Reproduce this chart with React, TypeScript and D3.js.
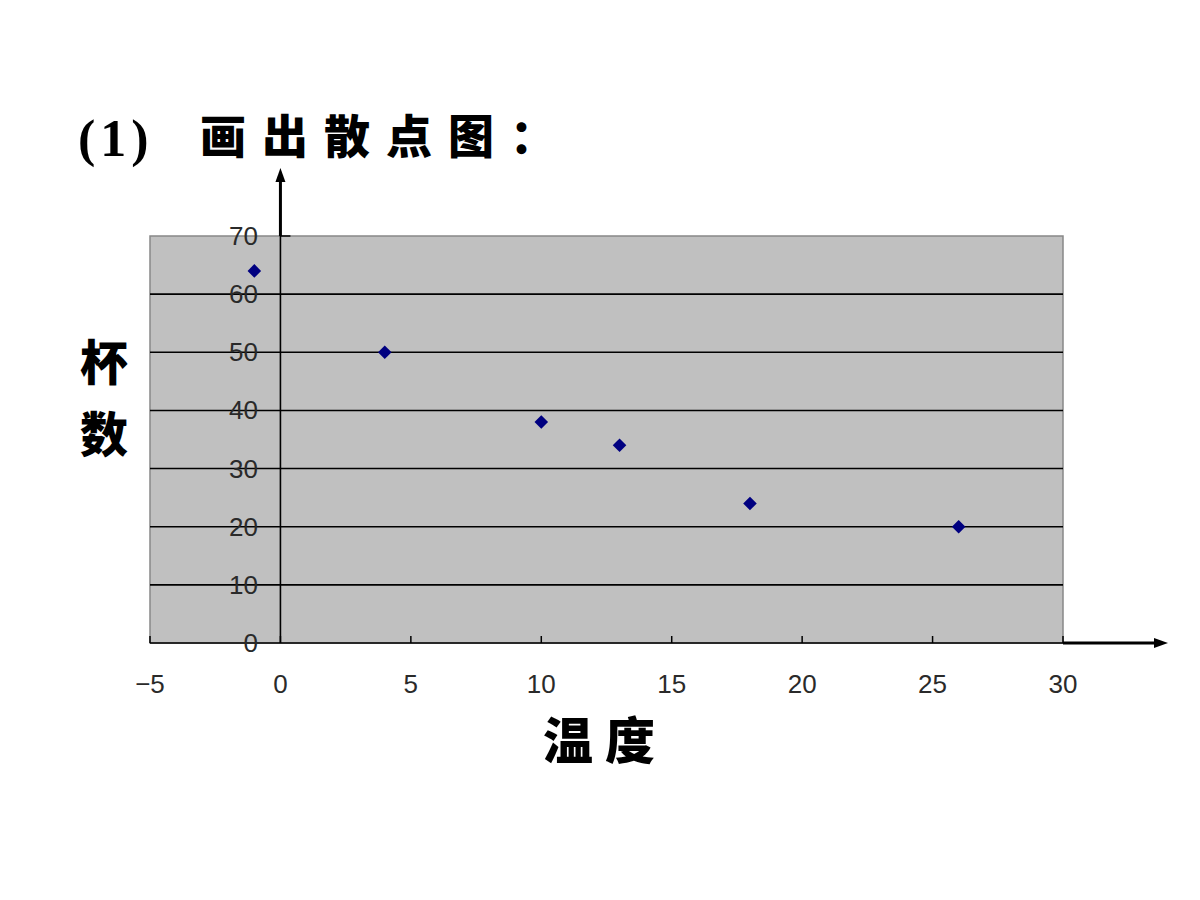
import * as d3 from 'd3';

const temps = [-1, 4, 10, 13, 18, 26];
const cups = [64, 50, 38, 34, 24, 20];
const xTicks = [-5, 0, 5, 10, 15, 20, 25, 30];
const yTicks = [0, 10, 20, 30, 40, 50, 60, 70];
const titleNum = '(1)';
const titleText = '画出散点图：';
const yLabel = ['杯', '数'];
const xLabel = '温度';

const CJK = '"Noto Sans CJK SC", "Noto Sans", sans-serif';
const NUM = '"Liberation Sans", "DejaVu Sans", sans-serif';

// square diamond, equal width and height
const squareDiamond = {
  draw(ctx: any, size: number) {
    const r = Math.sqrt(size / 2);
    ctx.moveTo(0, -r);
    ctx.lineTo(r, 0);
    ctx.lineTo(0, r);
    ctx.lineTo(-r, 0);
    ctx.closePath();
  },
};

export default function App() {
  const x = d3.scaleLinear().domain([-5, 30]).range([150, 1063]);
  const y = d3.scaleLinear().domain([0, 70]).range([643, 236]);
  const x0 = x(0);
  const pts = temps.map((t, i) => ({ t, c: cups[i] }));
  const diamond = d3.symbol().type(squareDiamond as any).size(92)();

  return (
    <svg width={1200} height={900} style={{ position: 'absolute', left: 0, top: 0, background: '#fff' }}>
      {/* title */}
      <text x={78} y={156} fontFamily='"Liberation Serif", serif' fontWeight={700} fontSize={52} letterSpacing={5} fill="#000">
        {titleNum}
      </text>
      <text x={200} y={153} fontFamily={CJK} fontWeight={900} fontSize={46} letterSpacing={16} fill="#000">
        {titleText}
      </text>

      {/* plot area */}
      <rect x={x(-5)} y={y(70)} width={x(30) - x(-5)} height={y(0) - y(70)} fill="#c0c0c0" stroke="#888" strokeWidth={1.5} />
      {yTicks.filter((v) => v > 0 && v < 70).map((v) => (
        <line key={v} x1={x(-5)} x2={x(30)} y1={y(v)} y2={y(v)} stroke="#000" strokeWidth={1.6} />
      ))}

      {/* x axis */}
      <line x1={x(-5)} x2={x(30)} y1={y(0)} y2={y(0)} stroke="#000" strokeWidth={1.6} />
      {xTicks.map((v) => (
        <line key={v} x1={x(v)} x2={x(v)} y1={y(0)} y2={y(0) - 7} stroke="#000" strokeWidth={1.5} />
      ))}
      <line x1={x(30)} x2={1156} y1={y(0)} y2={y(0)} stroke="#000" strokeWidth={3} />
      <path d={`M1168,${y(0)} L1154,${y(0) - 5} L1154,${y(0) + 5} Z`} fill="#000" />
      {xTicks.map((v) => (
        <text key={v} x={x(v)} y={693} textAnchor="middle" fontFamily={NUM} fontSize={26} fill="#2a2a2a">
          {v < 0 ? `\u2212${Math.abs(v)}` : v}
        </text>
      ))}

      {/* y axis at x = 0 */}
      <line x1={x0} x2={x0} y1={y(0)} y2={y(70)} stroke="#000" strokeWidth={1.6} />
      <line x1={x0} x2={x0 + 10} y1={y(70)} y2={y(70)} stroke="#000" strokeWidth={1.5} />
      <line x1={x0} x2={x0} y1={y(70)} y2={180} stroke="#000" strokeWidth={3} />
      <path d={`M${x0},168 L${x0 - 5},182 L${x0 + 5},182 Z`} fill="#000" />
      {yTicks.map((v) => (
        <text key={v} x={258} y={y(v) + 9} textAnchor="end" fontFamily={NUM} fontSize={26} fill="#2a2a2a">
          {v}
        </text>
      ))}

      {/* points */}
      {pts.map((p, i) => (
        <path key={i} d={diamond!} transform={`translate(${x(p.t)},${y(p.c)})`} fill="#000080" />
      ))}

      {/* axis titles */}
      {yLabel.map((s, i) => (
        <text key={s} x={104} y={380 + i * 72} textAnchor="middle" fontFamily={CJK} fontWeight={900} fontSize={48} fill="#000">
          {s}
        </text>
      ))}
      <text x={543} y={759} fontFamily={CJK} fontWeight={900} fontSize={50} letterSpacing={12} fill="#000">
        {xLabel}
      </text>
    </svg>
  );
}
